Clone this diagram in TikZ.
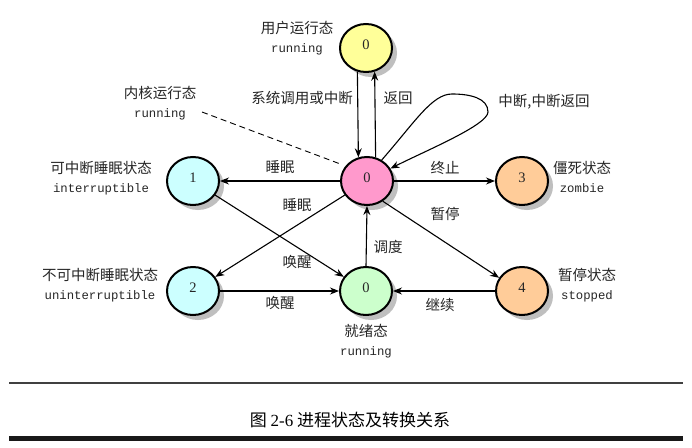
\documentclass[tikz,border=0pt]{standalone}
\usepackage{fontspec}
\setmainfont{Liberation Serif}
\setmonofont{Liberation Mono}
\newfontfamily\cjk{Noto Sans CJK SC}
\usetikzlibrary{shapes.geometric,shadows,arrows.meta}
\definecolor{cyel}{HTML}{FFFF99}
\definecolor{cpink}{HTML}{FF99CC}
\definecolor{cblue}{HTML}{CCFFFF}
\definecolor{cgreen}{HTML}{CCFFCC}
\definecolor{corange}{HTML}{FFCC99}
\begin{document}
\begin{tikzpicture}[x=1pt,y=-1pt,
  st/.style={ellipse, draw=black, line width=2pt, minimum width=52pt, minimum height=48pt, inner sep=0pt,
    drop shadow={shadow xshift=5pt,shadow yshift=-5pt,fill=black!25,opacity=1}},
  num/.style={font=\fontsize{14.5}{14.5}\selectfont, text=black!85, inner sep=0pt},
  lbl/.style={align=center, font=\fontsize{14.5}{19.5}\selectfont\cjk, text=black!85, inner sep=0pt},
  elbl/.style={font=\fontsize{14.5}{16}\selectfont\cjk, text=black!85, inner sep=0pt},
  arr/.style={-{Stealth[length=9pt,width=7pt]}, line width=1.1pt},
]
\useasboundingbox (0,0) rectangle (692,447);
\fill[white] (0,0) rectangle (692,447);

% states
\node[st, fill=cyel]    (Y)  at (366,48)  {};
\node[st, fill=cpink]   (P)  at (367,181) {};
\node[st, fill=cblue]   (B1) at (193,181) {};
\node[st, fill=cblue]   (B2) at (193,291) {};
\node[st, fill=cgreen]  (G)  at (366,291) {};
\node[st, fill=corange] (O3) at (522,181) {};
\node[st, fill=corange] (O4) at (522,291) {};

\node[num] (Yn)  at ([yshift=3pt]Y.center)  {0};
\node[num] (Pn)  at ([yshift=3pt]P.center)  {0};
\node[num] (B1n) at ([yshift=3pt]B1.center) {1};
\node[num] (B2n) at ([yshift=3pt]B2.center) {2};
\node[num] (Gn)  at ([yshift=3pt]G.center)  {0};
\node[num] (O3n) at ([yshift=3pt]O3.center) {3};
\node[num] (O4n) at ([yshift=3pt]O4.center) {4};

% state labels
\node[lbl] (LY)  at (297,38)  {用户运行态\\{\ttfamily\fontsize{12.3}{19.5}\selectfont running}};
\node[lbl] (LK)  at (160,103) {内核运行态\\{\ttfamily\fontsize{12.3}{19.5}\selectfont running}};
\node[lbl] (LB1) at (101,178) {可中断睡眠状态\\{\ttfamily\fontsize{12.3}{19.5}\selectfont interruptible}};
\node[lbl] (LB2) at (100,285) {不可中断睡眠状态\\{\ttfamily\fontsize{12.3}{19.5}\selectfont uninterruptible}};
\node[lbl] (LG)  at (366,341) {就绪态\\{\ttfamily\fontsize{12.3}{19.5}\selectfont running}};
\node[lbl] (LO3) at (582,177) {僵死状态\\{\ttfamily\fontsize{12.3}{19.5}\selectfont zombie}};
\node[lbl] (LO4) at (587,285) {暂停状态\\{\ttfamily\fontsize{12.3}{19.5}\selectfont stopped}};

% connectors
\draw[arr] (Y.250) -- (P.110);
\draw[arr] (P.70) -- (Y.290);
\draw[arr] (P.180) -- (B1.0);
\draw[arr] (P) -- (B2);
\draw[arr] (B1) -- (G);
\draw[arr] (B2.0) -- (G.180);
\draw[arr] (G.90) -- (P.270);
\draw[arr] (P.0) -- (O3.180);
\draw[arr] (P.-52) -- (O4.150);
\draw[arr] (O4.180) -- (G.0);
\draw[arr] (P.55) .. controls (415,122) and (432,94) .. (452,94)
  .. controls (470,94) and (488,98) .. (488,112)
  .. controls (488,125) and (425,151) .. (P.28);
\coordinate (Dk) at (202,112);
\draw[line width=0.9pt, dash pattern=on 6pt off 4pt, shorten >=4pt] (Dk) -- (P.145);

% edge labels
\node[elbl] (e1) at (302,98)  {系统调用或中断};
\node[elbl] (e2) at (398,98)  {返回};
\node[elbl] (e3) at (544,102) {中断,中断返回};
\node[elbl] (e4) at (280,167) {睡眠};
\node[elbl] (e5) at (445,168) {终止};
\node[elbl] (e6) at (297,205) {睡眠};
\node[elbl] (e7) at (445,214) {暂停};
\node[elbl] (e8) at (388,247) {调度};
\node[elbl] (e9) at (297,262) {唤醒};
\node[elbl] (e10) at (280,303) {唤醒};
\node[elbl] (e11) at (440,305) {继续};

% rules and caption
\fill[black!75] (9,381.5) rectangle (683,383.5);
\fill[black!90] (9,436) rectangle (683,441);
\node[inner sep=0pt, font=\fontsize{17}{17}\selectfont\cjk, text=black] (cap) at (350,420) {图 {\rmfamily 2-6} 进程状态及转换关系};
\end{tikzpicture}
\end{document}
